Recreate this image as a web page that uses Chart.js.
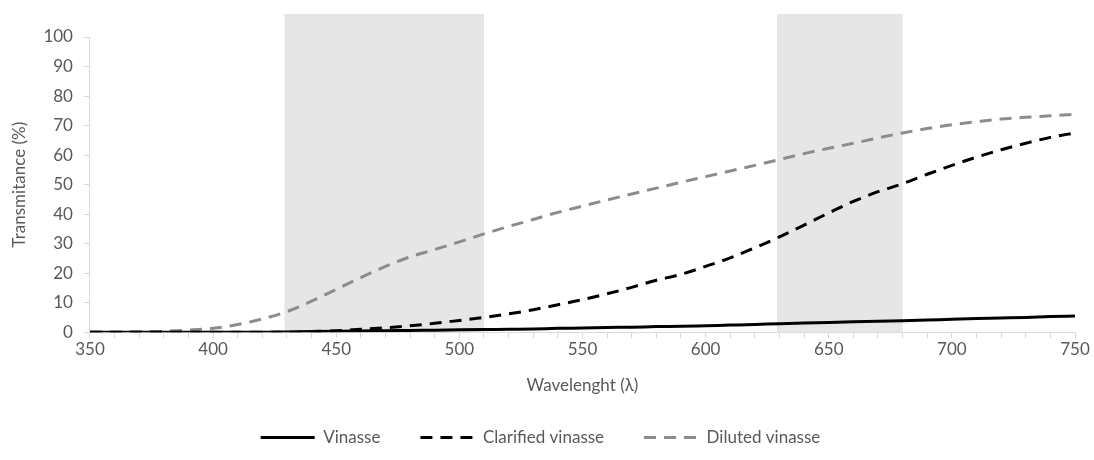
<!DOCTYPE html>
<html>
<head>
<meta charset="utf-8">
<script src="https://cdn.jsdelivr.net/npm/chart.js@4/dist/chart.umd.min.js"></script>
<style>
  html, body { margin: 0; padding: 0; background: #fff; }
  #wrap { width: 1094px; height: 460px; }
</style>
</head>
<body>
<div id="wrap"><canvas id="chart"></canvas></div>
<script>
// wavelengths (nm), one reading every 10 nm
var wavelengths = [350, 360, 370, 380, 390, 400, 410, 420, 430, 440,
                   450, 460, 470, 480, 490, 500, 510, 520, 530, 540,
                   550, 560, 570, 580, 590, 600, 610, 620, 630, 640,
                   650, 660, 670, 680, 690, 700, 710, 720, 730, 740, 750];

// transmitance (%)
var vinasse = [0, 0, 0, 0, 0, 0, 0, 0, 0.1, 0.2,
               0.3, 0.4, 0.5, 0.6, 0.7, 0.8, 0.9, 1.0, 1.1, 1.3,
               1.4, 1.6, 1.7, 1.9, 2.0, 2.2, 2.4, 2.6, 2.9, 3.1,
               3.3, 3.5, 3.7, 3.9, 4.1, 4.4, 4.6, 4.8, 5.0, 5.3, 5.5];
var clarified = [0, 0, 0, 0, 0, 0, 0, 0, 0, 0.2,
                 0.5, 1.0, 1.5, 2.2, 3.0, 4.0, 5.0, 6.2, 7.6, 9.3,
                 11.0, 13.0, 15.2, 17.6, 19.6, 22.3, 25.2, 28.6, 32.3, 36.3,
                 40.4, 44.3, 47.6, 50.3, 53.5, 56.5, 59.3, 61.8, 64.0, 66.0, 67.5];
var diluted = [0, 0, 0.1, 0.3, 0.7, 1.3, 2.6, 4.5, 7.0, 10.5,
               14.5, 18.5, 22.3, 25.5, 28.0, 30.6, 33.3, 35.8, 38.2, 40.6,
               42.7, 44.8, 46.8, 48.8, 50.8, 52.7, 54.6, 56.5, 58.5, 60.5,
               62.3, 64.0, 65.8, 67.5, 69.0, 70.3, 71.3, 72.2, 72.8, 73.3, 73.8];

// shaded wavelength bands
var bandStart = [429, 629];
var bandEnd = [510, 680];

var yTicks = [0, 10, 20, 30, 40, 50, 60, 70, 80, 90, 100];

function points(values) {
    return wavelengths.map(function (w, i) { return {x: w, y: values[i]}; });
}

var textColor = '#595959';
var axisColor = '#d9d9d9';

// grey bands behind the lines, a bit taller than the plot area
var bandPlugin = {
    id: 'bands',
    beforeDatasetsDraw: function (chart) {
        var ctx = chart.ctx;
        var xs = chart.scales.x;
        var area = chart.chartArea;
        ctx.save();
        ctx.fillStyle = '#e6e6e6';
        for (var i = 0; i < bandStart.length; i++) {
            var x0 = xs.getPixelForValue(bandStart[i]);
            var x1 = xs.getPixelForValue(bandEnd[i]);
            ctx.fillRect(x0, area.top - 23, x1 - x0, area.bottom - area.top + 23);
        }
        ctx.restore();
    }
};

// legend lines should copy the dataset's dash and width
function legendLabels(chart) {
    var items = Chart.defaults.plugins.legend.labels.generateLabels(chart);
    items.forEach(function (item) {
        var ds = chart.data.datasets[item.datasetIndex];
        item.lineDash = ds.borderDash || [];
        item.lineWidth = ds.borderWidth;
        item.strokeStyle = ds.borderColor;
    });
    return items;
}

Chart.defaults.font.family = 'Lato, "Liberation Sans", sans-serif';
Chart.defaults.font.size = 17;
Chart.defaults.color = textColor;

new Chart(document.getElementById('chart').getContext('2d'), {
    type: 'line',
    data: {
        datasets: [
            {
                label: 'Vinasse',
                data: points(vinasse),
                borderColor: '#000000',
                backgroundColor: '#000000',
                borderWidth: 3
            },
            {
                label: 'Clarified vinasse',
                data: points(clarified),
                borderColor: '#000000',
                backgroundColor: '#000000',
                borderWidth: 3,
                borderDash: [12, 8]
            },
            {
                label: 'Diluted vinasse',
                data: points(diluted),
                borderColor: '#8c8c8c',
                backgroundColor: '#8c8c8c',
                borderWidth: 3,
                borderDash: [12, 8]
            }
        ]
    },
    options: {
        responsive: true,
        maintainAspectRatio: false,
        animation: false,
        elements: {
            point: { radius: 0 },
            line: { cubicInterpolationMode: 'monotone', borderCapStyle: 'butt' }
        },
        layout: { padding: { top: 37, right: 19, left: 6, bottom: 4 } },
        plugins: {
            legend: {
                position: 'bottom',
                labels: {
                    usePointStyle: true,
                    pointStyle: 'line',
                    pointStyleWidth: 54,
                    boxHeight: 14,
                    padding: 40,
                    color: textColor,
                    generateLabels: legendLabels
                }
            },
            tooltip: { enabled: false }
        },
        scales: {
            x: {
                type: 'linear',
                min: 350,
                max: 750,
                border: { color: axisColor, width: 1 },
                grid: { drawOnChartArea: false, drawTicks: true, tickLength: 6, color: axisColor },
                ticks: {
                    stepSize: 10,
                    autoSkip: false,
                    maxRotation: 0,
                    minRotation: 0,
                    padding: 1,
                    color: textColor,
                    callback: function (v) { return v % 50 === 0 ? v : ''; }
                },
                title: {
                    display: true,
                    text: 'Wavelenght (λ)',
                    color: textColor,
                    padding: { top: 15, bottom: -7 }
                }
            },
            y: {
                min: 0,
                max: 100,
                border: { color: axisColor, width: 1 },
                grid: { drawOnChartArea: false, drawTicks: true, tickLength: 6, color: axisColor },
                afterBuildTicks: function (axis) {
                    axis.ticks = yTicks.map(function (v) { return {value: v}; });
                },
                ticks: {
                    padding: 11,
                    color: textColor
                },
                title: {
                    display: true,
                    text: 'Transmitance (%)',
                    color: textColor,
                    padding: { top: 3, bottom: 3 }
                }
            }
        }
    },
    plugins: [bandPlugin]
});
</script>
</body>
</html>
